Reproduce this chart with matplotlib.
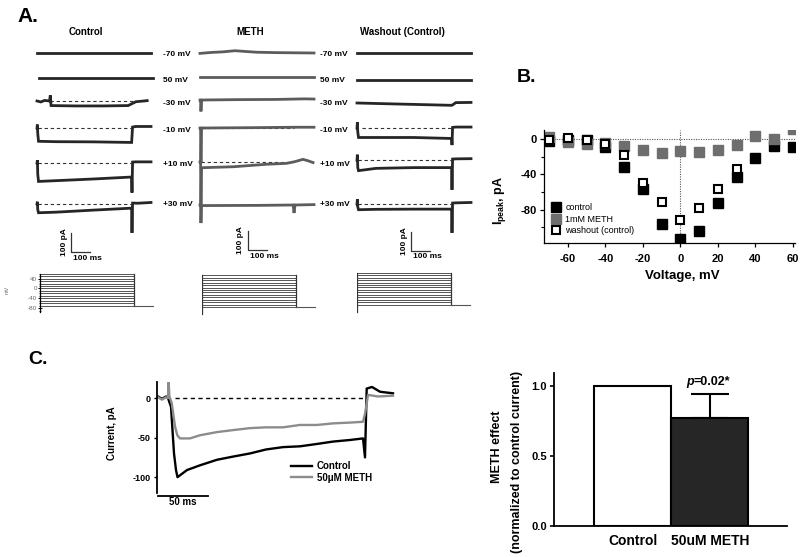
import matplotlib
matplotlib.use('Agg')
import matplotlib.pyplot as plt

plt.rcParams['font.family'] = ['Liberation Sans', 'DejaVu Sans']
plt.rcParams['font.weight'] = 'bold'
plt.rcParams['axes.unicode_minus'] = False
plt.rcParams['mathtext.fontset'] = 'custom'
plt.rcParams['mathtext.bf'] = 'Liberation Sans:bold'
plt.rcParams['mathtext.rm'] = 'Liberation Sans'

W, H = 800, 557

# ---------------- data ----------------
# panel A: current traces (ms, pA relative to holding level), one per step
step_labels = ['-70 mV', '50 mV', '-30 mV', '-10 mV', '+10 mV', '+30 mV']
col_titles = ['Control', 'METH', 'Washout (Control)']

ctrl_rows = [
    ([0, 600], [0, 0]),
    ([10, 610], [0, 0]),
    ([0, 20, 40, 66, 70, 74, 200, 350, 480, 520, 580], [0, -5, 3, 0, 30, -24, -26, -26, -24, -4, 2]),
    ([0, 2, 4, 8, 100, 300, 495, 498, 503, 520, 600], [0, 18, -30, -70, -72, -73, -76, -76, 5, 8, 8]),
    ([0, 2, 4, 8, 100, 300, 495, 498, 500, 503, 520, 600], [0, 15, -60, -97, -93, -84, -74, -74, -156, 5, 6, 6]),
    ([0, 2, 4, 8, 100, 300, 495, 498, 500, 503, 530, 600], [0, 12, -30, -46, -43, -32, -22, -22, -152, 5, 4, 8]),
]
meth_rows = [
    ([0, 60, 120, 184, 240, 300, 400, 600], [-2, 3, 6, 12, 8, 4, 2, 0]),
    ([0, 600], [0, 0]),
    ([0, 3, 5, 8, 12, 200, 400, 550, 600], [0, 0, -60, -10, 0, 2, 3, 6, 5]),
    ([0, 3, 5, 8, 12, 300, 500, 600], [0, 0, -179, -5, 0, 2, 4, 4]),
    ([0, 3, 5, 8, 12, 175, 350, 456, 500, 542, 570, 595], [0, 0, -226, -30, -30, -25, -12, -7, 2, 14, 6, -3]),
    ([0, 3, 5, 8, 12, 300, 490, 495, 500, 600], [0, 0, -95, -5, -3, -2, 0, -42, 0, 2]),
]
wash_rows = [
    ([0, 600], [0, 0]),
    ([0, 600], [0, 0]),
    ([0, 200, 490, 500, 520, 600], [0, -5, -12, -12, 2, 3]),
    ([0, 2, 4, 8, 100, 300, 495, 498, 500, 503, 520, 600], [0, 30, -20, -50, -50, -50, -55, -55, -90, 3, 5, 5]),
    ([0, 2, 4, 8, 100, 300, 495, 498, 500, 503, 520, 600], [0, 28, -40, -56, -44, -40, -40, -40, -157, 5, 6, 7]),
    ([0, 2, 4, 8, 100, 300, 495, 498, 500, 503, 520, 600], [0, 25, -15, -30, -28, -27, -27, -27, -152, 5, 6, 8]),
]
# dashed reference line (start, end in ms) per row, None = no line
ctrl_dash = [None, None, (70, 580), (5, 495), (5, 495), (5, 495)]
meth_dash = [None, None, None, (5, 495), (5, 495), None]
wash_dash = [None, None, None, (26, 500), (5, 495), (5, 495)]

# voltage protocol (mV)
prot_levels = [-70, -60, -50, -40, -30, -20, -10, 0, 10, 20, 30, 40, 50, 60]
prot_hold = -70
prot_step_ms = 500
prot_end_ms = 600

# panel B: I-V relationship
volt = [-70, -60, -50, -40, -30, -20, -10, 0, 10, 20, 30, 40, 50, 60]
i_control = [-2, -1, -1, -9, -32, -57, -97, -113, -104, -73, -43, -21, -8, -9]
i_meth = [2, -3, -6, -5, -8, -12, -16, -14, -15, -12, -7, 3, 0, 11]
volt_wash = [-70, -60, -50, -40, -30, -20, -10, 0, 10, 20, 30]
i_wash = [-1, 1, -1, -6, -18, -50, -71, -92, -78, -57, -34]

# panel C: example traces at peak step
c_t_ctrl = [0, 4, 8, 10, 13, 16, 18, 19.5, 29, 42, 59, 75, 92, 108, 125, 142, 159, 175, 192, 205, 207, 208.7, 214, 222, 235]
c_i_ctrl = [2, -1, 2, 0, -11, -70, -91, -100, -91, -85, -78, -74, -70, -65, -62, -61, -58, -55, -53, -51, -75, 12, 14, 8, 6]
c_t_meth = [0, 4, 8, 10, 10.6, 11.4, 13.7, 17, 19.3, 22, 32, 42, 59, 75, 92, 108, 125, 142, 159, 175, 192, 205, 207, 210, 220, 235]
c_i_meth = [1, -2, 1, 0, 20, 2, -6, -36, -47, -51, -51, -47, -43, -40.5, -38, -37, -37, -34, -34, -32, -31, -30, -20, 4, 2, 3]

# panel C: normalised effect
bar_names = ['Control', '50uM METH']
bar_vals = [1.0, 0.77]
bar_err = [0.0, 0.17]

# ---------------- helpers ----------------
fig = plt.figure(figsize=(W / 100, H / 100), dpi=100)


def px_axes(left, top, right, bottom):
    return fig.add_axes([left / W, 1 - bottom / H, (right - left) / W, (bottom - top) / H])


def ftext(x, y, s, **kw):
    fig.text(x / W, 1 - y / H, s, **kw)


# ---------------- panel A ----------------
ftext(28, 16, 'A.', fontsize=15, ha='center', va='center')
ftext(86, 32, col_titles[0], fontsize=7, ha='center', va='center')
ftext(250, 32, col_titles[1], fontsize=7, ha='center', va='center')
ftext(402, 32, col_titles[2], fontsize=7, ha='center', va='center')

PXMS = 0.19   # px per ms
PXPA = 0.19   # px per pA
columns = [
    (37, ctrl_rows, ctrl_dash, [53, 78, 101, 128, 163, 204], '#262626', 71, 252),
    (200, meth_rows, meth_dash, [53, 77, 100, 128, 162, 205], '#5c5c5c', 248, 250),
    (357, wash_rows, wash_dash, [53, 80, 103, 128, 160, 204], '#262626', 411, 251),
]
for x0, rows, dashes, rows_y, color, sb_x, sb_y in columns:
    ax = px_axes(x0 - 10, 38, x0 + 130, 265)
    ax.set_xlim(-10 / PXMS, 130 / PXMS)
    ax.set_ylim(-(265 - 53) / PXPA, -(38 - 53) / PXPA)
    ax.axis('off')
    for (t, cur), dash, ry in zip(rows, dashes, rows_y):
        off = -(ry - 53) / PXPA
        if dash is not None:
            ax.plot(dash, [off, off], color='#333333', lw=0.8, dashes=(3, 2.5))
        ax.plot(t, [c + off for c in cur], color=color, lw=2.0, solid_joinstyle='miter')
    # scale bars 100 pA / 100 ms
    tb = (sb_x - x0) / PXMS
    yb = -(sb_y - 53) / PXPA
    ax.plot([tb, tb, tb + 100], [yb + 100, yb, yb], color='#333333', lw=0.9)
    ax.text(tb - 7 / PXMS, yb + 50, '100 pA', rotation=90, fontsize=6, ha='center', va='center')
    ax.text(tb + 2 / PXMS, yb - 6 / PXPA, '100 ms', fontsize=6, ha='left', va='center')

for lx in (163, 320):
    for lab, ly in zip(step_labels, [54, 80, 104, 130, 164, 205]):
        ftext(lx, ly, lab, fontsize=6, ha='left', va='center')

# voltage protocols
PXMV = 0.245
for x0, zero_y, with_axis in [(40, 288.5, True), (202, 290, False), (357, 287.5, False)]:
    ax = px_axes(x0, 268, x0 + 125, 316)
    ax.set_xlim(0, 125 / 0.188)
    ax.set_ylim((zero_y - 316) / PXMV, (zero_y - 268) / PXMV)
    for v in prot_levels:
        ax.plot([0, prot_step_ms], [v, v], color='#555555', lw=0.7)
    ax.plot([prot_step_ms, prot_step_ms], [prot_hold, prot_levels[-1]], color='#333333', lw=0.9)
    ax.plot([prot_step_ms, prot_end_ms], [prot_hold, prot_hold], color='#555555', lw=0.8)
    for s in ['top', 'right', 'bottom']:
        ax.spines[s].set_visible(False)
    ax.set_xticks([])
    if with_axis:
        ax.spines['left'].set_bounds(-96, 60)
        ax.spines['left'].set_linewidth(0.9)
        ax.set_yticks([40, 0, -40, -80])
        ax.set_yticks([-90, -70, -60, -50, -30, -20, -10, 10, 20, 30, 50, 60], minor=True)
        ax.tick_params(axis='y', labelsize=4.5, labelcolor='#666666', length=2.5, width=0.7,
                       direction='inout', pad=1)
        ax.tick_params(axis='y', which='minor', length=2, width=0.5, direction='inout')
        for lbl in ax.get_yticklabels():
            lbl.set_fontweight('normal')
    else:
        ax.spines['left'].set_visible(False)
        ax.set_yticks([])
        ax.plot([0, 0], [-100, prot_levels[-1]], color='#333333', lw=0.9)
ftext(7, 290, 'mV', fontsize=4, rotation=90, ha='center', va='center', color='#666666',
      fontweight='normal')

# ---------------- panel B ----------------
ftext(527, 78, 'B.', fontsize=14, ha='center', va='center')
axB = px_axes(544, 130, 795, 243)
axB.axhline(0, color='#555555', lw=0.8, ls=(0, (1, 1.2)))
axB.axvline(0, color='#555555', lw=0.8, ls=(0, (1, 1.2)))
axB.plot(volt, i_control, 's', color='black', ms=6.5, label='control')
axB.plot(volt, i_meth, 's', color='#6e6e6e', ms=6.5, label='1mM METH')
axB.plot(volt_wash, i_wash, 's', mfc='white', mec='black', mew=1.5, ms=6, label='washout (control)')
axB.set_xlim(-72.8, 61.1)
axB.set_ylim(-118, 10.2)
axB.set_xticks([-60, -40, -20, 0, 20, 40, 60])
axB.set_yticks([0, -40, -80])
axB.set_yticks([-20, -60, -100], minor=True)
axB.tick_params(labelsize=8, length=3, width=0.9, pad=2)
axB.tick_params(axis='x', pad=5)
axB.tick_params(axis='y', which='minor', length=2, width=0.8)
for s in ['top', 'right']:
    axB.spines[s].set_visible(False)
for s in ['left', 'bottom']:
    axB.spines[s].set_linewidth(0.9)
axB.legend(loc='upper left', bbox_to_anchor=(0.01, 0.39), frameon=False,
           handlelength=1.0, handletextpad=0.6, labelspacing=0.25, borderpad=0,
           prop={'weight': 'normal', 'size': 6.5})
ftext(499, 200, r'$\mathbf{I_{peak}}$, pA', fontsize=9, rotation=90, ha='center', va='center')
ftext(682, 276, 'Voltage, mV', fontsize=9.5, ha='center', va='center')

# ---------------- panel C (traces) ----------------
ftext(38, 360, 'C.', fontsize=14, ha='center', va='center')
axC = px_axes(157, 382, 400, 493)
axC.plot([17, 208], [0, 0], color='black', lw=1.0, dashes=(3, 2.5))
axC.plot(c_t_ctrl, c_i_ctrl, color='black', lw=1.7, label='Control')
axC.plot(c_t_meth, c_i_meth, color='#8c8c8c', lw=1.7, label='50\u03bcM METH')
axC.set_xlim(-1, 242)
axC.set_ylim(-120, 20.3)
axC.set_yticks([0, -50, -100])
axC.set_xticks([])
for s in ['top', 'right', 'bottom']:
    axC.spines[s].set_visible(False)
axC.spines['left'].set_linewidth(1.3)
axC.tick_params(axis='y', labelsize=6.5, length=2.5, width=1, pad=2)
axC.plot([0, 50], [-124, -124], color='black', lw=1.3, clip_on=False)
axC.text(25, -132, '50 ms', fontsize=7, ha='center', va='center')
axC.legend(loc='upper left', bbox_to_anchor=(0.53, 0.33), frameon=False, fontsize=7,
           handlelength=2.2, handletextpad=0.5, labelspacing=0.15, borderpad=0)
ftext(112, 433, 'Current, pA', fontsize=7, rotation=90, ha='center', va='center')

# ---------------- panel C (bars) ----------------
axD = px_axes(554, 373, 787, 526)
axD.bar([0, 1], bar_vals, width=1.0, color=['white', '#262626'], edgecolor='black', lw=1.5)
axD.errorbar([1], [bar_vals[1]], yerr=[[0], [bar_err[1]]], fmt='none', ecolor='black',
             elinewidth=1.5, capsize=14, capthick=1.5)
axD.set_xlim(-1.02, 2.0)
axD.set_ylim(0, 1.093)
axD.set_yticks([0.0, 0.5, 1.0])
axD.set_yticklabels(['0.0', '0.5', '1.0'])
axD.set_xticks([0, 1])
axD.set_xticklabels(bar_names)
for s in ['top', 'right']:
    axD.spines[s].set_visible(False)
for s in ['left', 'bottom']:
    axD.spines[s].set_linewidth(1.3)
axD.tick_params(axis='y', labelsize=8, length=3, width=1.2, pad=2)
axD.tick_params(axis='x', labelsize=10, length=0, pad=6)
axD.text(0.79, 1.007, 'p', fontsize=9, fontstyle='italic', ha='right', va='baseline')
axD.text(0.79, 1.007, '=0.02*', fontsize=9, ha='left', va='baseline')
ftext(497, 447, 'METH effect', fontsize=9, rotation=90, ha='center', va='center')
ftext(517, 462, '(normalized to control current)', fontsize=9, rotation=90, ha='center', va='center')

fig.savefig('out.png', dpi=100)
